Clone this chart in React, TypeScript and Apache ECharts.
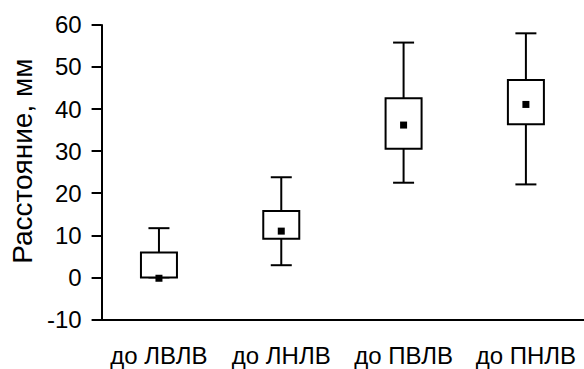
import React, { useEffect, useRef } from "react";
import * as echarts from "echarts";

const categories = ["до ЛВЛВ", "до ЛНЛВ", "до ПВЛВ", "до ПНЛВ"];
const whiskerLow = [0, 2.9, 22.5, 22.1];
const boxLow = [0, 9.2, 30.6, 36.4];
const boxHigh = [5.9, 15.8, 42.6, 46.9];
const whiskerHigh = [11.7, 23.8, 55.8, 58.0];
const meanValues = [-0.2, 11.0, 36.2, 41.1];
const yTicks = [-10, 0, 10, 20, 30, 40, 50, 60];
const yAxisTitle = "Расстояние, мм";

const FONT = "'Liberation Sans', Arial, sans-serif";

export default function App() {
  const ref = useRef<HTMLDivElement>(null);
  useEffect(() => {
    document.body.style.margin = "0";
    if (!ref.current) return;
    const chart = echarts.init(ref.current, null, { renderer: "svg" });
    const data = categories.map((_, i) => [
      i + 1,
      whiskerLow[i],
      boxLow[i],
      boxHigh[i],
      whiskerHigh[i],
      meanValues[i],
    ]);
    const boxW = 36;
    const capW = 21;
    const mk = 7;
    const lineStyle = { stroke: "#000", lineWidth: 2 };
    chart.setOption({
      animation: false,
      backgroundColor: "#fff",
      grid: { left: 94.5, right: 0, top: 24.9, bottom: 49.5 },
      xAxis: {
        type: "value",
        min: 0.531,
        max: 4.475,
        splitLine: { show: false },
        axisTick: { show: false },
        axisLine: { show: true, onZero: false, lineStyle: { color: "#000", width: 2 } },
        axisLabel: {
          customValues: [1, 2, 3, 4],
          formatter: (v: number) => categories[Math.round(v) - 1] ?? "",
          color: "#000",
          fontSize: 24,
          fontFamily: FONT,
          margin: 24,
        },
      },
      yAxis: {
        type: "value",
        min: -10,
        max: 60,
        interval: 10,
        name: yAxisTitle,
        nameLocation: "middle",
        nameGap: 60.5,
        nameTextStyle: { color: "#000", fontSize: 28, fontFamily: FONT, padding: [0, 0, 0, 22] },
        splitLine: { show: false },
        axisLine: { show: true, lineStyle: { color: "#000", width: 2 } },
        axisTick: { show: true, length: 10, lineStyle: { color: "#000", width: 2 }, customValues: yTicks },
        axisLabel: { color: "#000", fontSize: 24, fontFamily: FONT, margin: 20, customValues: yTicks },
      },
      series: [
        {
          type: "custom",
          data,
          encode: { x: 0, y: [1, 2, 3, 4, 5] },
          renderItem: (params: any, api: any) => {
            const x = api.value(0);
            const pLow = api.coord([x, api.value(1)]);
            const pQ1 = api.coord([x, api.value(2)]);
            const pQ3 = api.coord([x, api.value(3)]);
            const pHigh = api.coord([x, api.value(4)]);
            const pMean = api.coord([x, api.value(5)]);
            const cx = pLow[0];
            return {
              type: "group",
              children: [
                { type: "line", shape: { x1: cx, y1: pQ3[1], x2: cx, y2: pHigh[1] }, style: lineStyle },
                { type: "line", shape: { x1: cx - capW / 2, y1: pHigh[1], x2: cx + capW / 2, y2: pHigh[1] }, style: lineStyle },
                { type: "line", shape: { x1: cx, y1: pQ1[1], x2: cx, y2: pLow[1] }, style: lineStyle },
                { type: "line", shape: { x1: cx - capW / 2, y1: pLow[1], x2: cx + capW / 2, y2: pLow[1] }, style: lineStyle },
                {
                  type: "rect",
                  shape: { x: cx - boxW / 2, y: pQ3[1], width: boxW, height: pQ1[1] - pQ3[1] },
                  style: { fill: "#fff", stroke: "#000", lineWidth: 2 },
                },
                {
                  type: "rect",
                  shape: { x: cx - mk / 2, y: pMean[1] - mk / 2, width: mk, height: mk },
                  style: { fill: "#000" },
                },
              ],
            };
          },
        },
      ],
    });
    return () => chart.dispose();
  }, []);
  return <div ref={ref} style={{ width: 584, height: 369 }} />;
}
